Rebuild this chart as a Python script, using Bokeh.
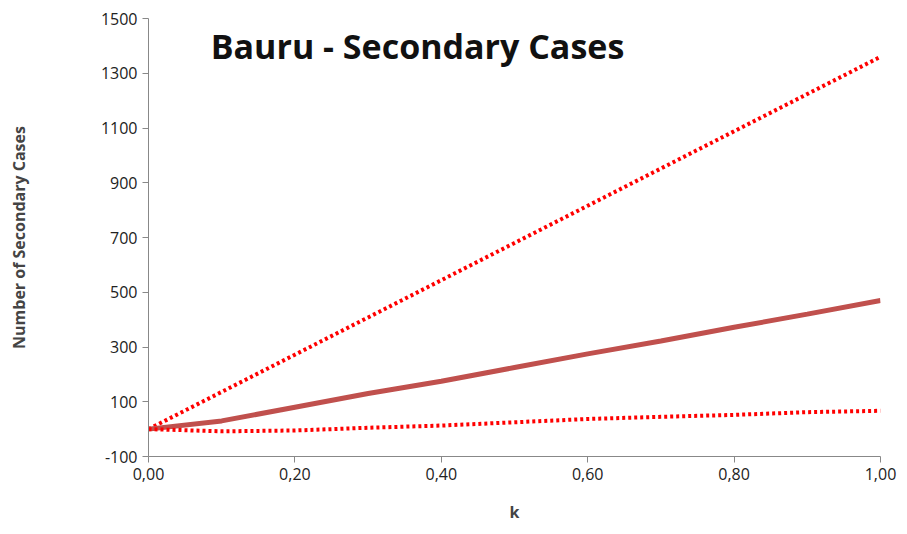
from bokeh.plotting import figure
from bokeh.models import Range1d, FixedTicker, CustomJSTickFormatter, Label
from bokeh.embed import file_html
from bokeh.resources import INLINE

k = [0.0, 0.1, 0.2, 0.3, 0.4, 0.5, 0.6, 0.7, 0.8, 0.9, 1.0]
upper = [0, 136, 272, 408, 544, 680, 816, 952, 1088, 1224, 1360]
middle = [0, 30, 80, 130, 175, 225, 275, 322, 372, 420, 470]
lower = [0, -8, -5, 5, 13, 25, 37, 45, 52, 62, 67]
x_ticks = [0.0, 0.2, 0.4, 0.6, 0.8, 1.0]
y_ticks = [-100, 100, 300, 500, 700, 900, 1100, 1300, 1500]

p = figure(width=899, height=526, output_backend="svg", toolbar_location=None,
           x_range=Range1d(0, 1), y_range=Range1d(-100, 1500),
           min_border_left=148, min_border_right=19, min_border_top=18,
           min_border_bottom=70)
p.outline_line_color = None
p.grid.grid_line_color = None

p.line(k, upper, line_color="#FF0000", line_width=4, line_dash="3 3")
p.line(k, middle, line_color="#C0504D", line_width=5)
p.line(k, lower, line_color="#FF0000", line_width=4, line_dash="3 3")

p.xaxis.ticker = FixedTicker(ticks=x_ticks)
p.yaxis.ticker = FixedTicker(ticks=y_ticks)
p.xaxis.formatter = CustomJSTickFormatter(code="return tick.toFixed(2).replace('.', ',');")
p.yaxis.formatter = CustomJSTickFormatter(code="return String(tick);")
for ax in (p.xaxis, p.yaxis):
    ax.axis_line_color = "#888888"
    ax.major_tick_line_color = "#888888"
    ax.minor_tick_line_color = None
    ax.major_tick_in = 0
    ax.major_tick_out = 6
    ax.major_label_text_font = "Open Sans"
    ax.major_label_text_font_size = "16px"
    ax.major_label_text_color = "#222222"
    ax.axis_label_text_font = "Open Sans"
    ax.axis_label_text_font_style = "bold"
    ax.axis_label_text_font_size = "16px"
p.xaxis.axis_label = "k"
p.yaxis.axis_label = "Number of Secondary Cases"
p.xaxis.axis_label_standoff = 18
p.yaxis.axis_label_standoff = 68

p.add_layout(Label(x=0.085, y=1400, text="Bauru - Secondary Cases",
                   text_font="Open Sans", text_font_style="bold",
                   text_font_size="34px", text_color="#111111",
                   text_baseline="middle"))

open("out.html", "w").write(file_html(p, INLINE))
